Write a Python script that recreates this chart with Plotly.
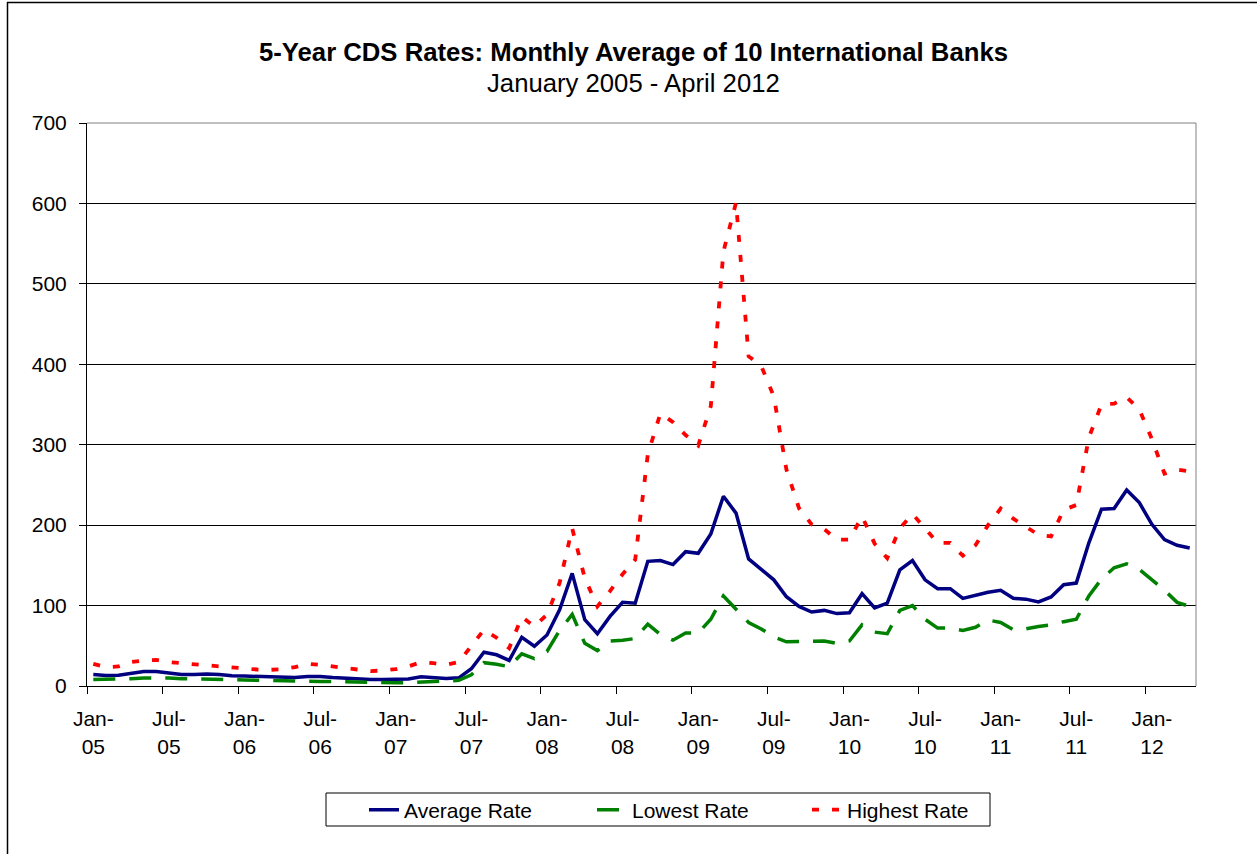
import plotly.graph_objects as go

# ---------------- data ----------------
MONTH_NAMES = ["Jan", "Feb", "Mar", "Apr", "May", "Jun", "Jul", "Aug", "Sep", "Oct", "Nov", "Dec"]
months = [f"{m}-{y:02d}" for y in range(5, 13) for m in MONTH_NAMES][:88]  # Jan-05 .. Apr-12

average_rate = [
    14.3, 13.1, 13.5, 16, 18, 18, 16, 14.3, 14.3, 15, 14.3, 12.7,
    12.3, 11.9, 11.9, 11, 10.7, 11.9, 11.9, 10.7, 9.8, 9, 8.2, 8.2,
    8.2, 8.6, 11.5, 10.7, 9.4, 10.2, 21.4, 42, 38.8, 31.8, 60.6, 49.5,
    63.5, 94.8, 140, 82.5, 65, 86.6, 104, 103, 155, 156, 151, 167,
    165, 189, 236, 215, 158, 145, 132, 111, 99, 92, 94, 90,
    91, 114.8, 97, 103, 144.4, 156, 132, 121, 121, 109, 113, 116.5,
    119, 109, 108, 104.5, 110.7, 126, 128, 178, 219.8, 220.6, 243.6, 228,
    201, 182, 175, 171.6,
]
lowest_rate = [
    8, 8, 8, 9, 10, 10.5, 10, 9, 9, 8.5, 8.5, 8,
    7.5, 7, 7, 6.5, 6, 6, 5.5, 5.5, 5, 5, 4.5, 4,
    4, 4, 5, 6, 6, 7, 14, 29, 27, 24, 40, 34,
    43, 69, 89, 53, 44, 56, 57, 59, 77, 64, 57, 66,
    66, 83, 112, 95, 79, 71, 61, 55, 55, 56, 56, 53,
    56, 76, 67, 65, 94, 100, 83, 72, 72, 69, 73, 82,
    79, 70, 71, 74, 76, 80, 83, 112, 133, 147, 152, 145,
    132, 119, 104, 99,
]
highest_rate = [
    27.6, 23.4, 24.3, 29.7, 31.7, 32.5, 29.7, 28.4, 26.8, 26, 24.3, 22.2,
    21.4, 20.5, 20.1, 21, 23.4, 27.6, 26.3, 24.3, 21.4, 20.1, 18.5, 19.3,
    21, 24.3, 29.7, 28.4, 26.3, 29.7, 49.5, 70, 60, 47, 86, 74,
    88.7, 128, 196, 134, 99, 118, 139, 157, 288, 339, 328, 312,
    299, 348, 540, 601, 410, 398, 360, 269, 221, 201, 195, 182,
    182, 211, 177, 159, 196, 214, 196, 178, 178, 162, 175, 200,
    220.6, 208, 198, 188, 186, 219, 225, 309, 350, 351, 359, 344,
    307, 264, 269, 267,
]

series_names = ["Average Rate", "Lowest Rate", "Highest Rate"]
y_tick_values = [0, 100, 200, 300, 400, 500, 600, 700]
title_main = "5-Year CDS Rates: Monthly Average of 10 International Banks"
title_sub = "January 2005 - April 2012"

# ---------------- layout helpers ----------------
FONT = "Liberation Sans, Arial, sans-serif"
W, H = 1257, 854
ML, MR, MT, MB = 87, 61, 123, 168
PW, PH = W - ML - MR, H - MT - MB


def xp(px):
    return (px - ML) / PW


def yp(py):
    return (MT + PH - py) / PH


positions = list(range(len(months)))
label_idx = list(range(0, len(months), 6))
tick_text = [f"{months[i][:4]}<br>{months[i][4:]}" for i in label_idx]
boundary_vals = [i - 0.5 for i in label_idx]

fig = go.Figure()
styles = [
    dict(color="#000080", width=3.5, dash="solid"),
    dict(color="#008000", width=3.5, dash="22px,14px"),
    dict(color="#FF0000", width=3.8, dash="7px,13px"),
]
legends = ["legend", "legend2", "legend3"]
for name, vals, st, lg in zip(series_names, [average_rate, lowest_rate, highest_rate], styles, legends):
    fig.add_trace(go.Scatter(
        x=positions, y=vals, customdata=months, name=name, mode="lines",
        line=st, legend=lg,
        hovertemplate="%{customdata}: %{y}<extra>" + name + "</extra>",
    ))

legend_text_starts = [404, 632, 847]
legend_common = dict(
    orientation="h", xanchor="left", yanchor="middle", y=yp(810),
    bgcolor="rgba(0,0,0,0)", borderwidth=0,
    font=dict(family=FONT, size=21, color="black"),
)

fig.update_layout(
    width=W, height=H,
    margin=dict(l=ML, r=MR, t=MT, b=MB, pad=0),
    paper_bgcolor="white", plot_bgcolor="white",
    font=dict(family=FONT, size=21, color="black"),
    showlegend=True,
    legend=dict(x=xp(legend_text_starts[0] - 40), **legend_common),
    legend2=dict(x=xp(legend_text_starts[1] - 40), **legend_common),
    legend3=dict(x=xp(legend_text_starts[2] - 40), **legend_common),
    xaxis=dict(
        range=[-0.5, len(months) - 0.5],
        tickmode="array", tickvals=label_idx, ticktext=tick_text,
        ticks="", showgrid=False, zeroline=False,
        showline=True, linecolor="black", linewidth=1,
        ticklabelstandoff=14,
        tickfont=dict(family=FONT, size=21, color="black"),
        minor=dict(tickmode="array", tickvals=boundary_vals, ticks="outside",
                   ticklen=7, tickcolor="black", tickwidth=1, showgrid=False),
    ),
    yaxis=dict(
        range=[0, 700], tickmode="array", tickvals=y_tick_values,
        ticks="outside", ticklen=7, tickcolor="black",
        showgrid=True, gridcolor="black", gridwidth=1,
        zeroline=False, showline=True, linecolor="black", linewidth=1,
        ticklabelstandoff=8,
        tickfont=dict(family=FONT, size=21, color="black"),
    ),
    annotations=[
        dict(text="<b>" + title_main + "</b>", xref="paper", yref="paper",
             x=xp(633), y=yp(52), xanchor="center", yanchor="middle",
             showarrow=False, font=dict(family=FONT, size=25.7, color="black")),
        dict(text=title_sub, xref="paper", yref="paper",
             x=xp(633), y=yp(83), xanchor="center", yanchor="middle",
             showarrow=False, font=dict(family=FONT, size=25.7, color="black")),
    ],
    shapes=[
        # plot area top/right border (grey)
        dict(type="line", xref="paper", yref="paper", x0=0, x1=1, y0=1, y1=1,
             line=dict(color="#808080", width=1)),
        dict(type="line", xref="paper", yref="paper", x0=1, x1=1, y0=0, y1=1,
             line=dict(color="#808080", width=1)),
        # legend box
        dict(type="rect", xref="paper", yref="paper",
             x0=xp(326), x1=xp(990), y0=yp(826), y1=yp(793),
             line=dict(color="black", width=1), fillcolor="rgba(0,0,0,0)"),
        # chart area frame (left and top)
        dict(type="line", xref="paper", yref="paper",
             x0=xp(7.5), x1=xp(7.5), y0=yp(2), y1=yp(854),
             line=dict(color="black", width=1.5)),
        dict(type="line", xref="paper", yref="paper",
             x0=xp(7), x1=xp(1257), y0=yp(2.5), y1=yp(2.5),
             line=dict(color="black", width=1.5)),
    ],
)

fig.write_html(
    "out.html",
    config={"displayModeBar": False},
    post_script="document.body.style.margin='0';document.body.style.overflow='hidden';",
)
